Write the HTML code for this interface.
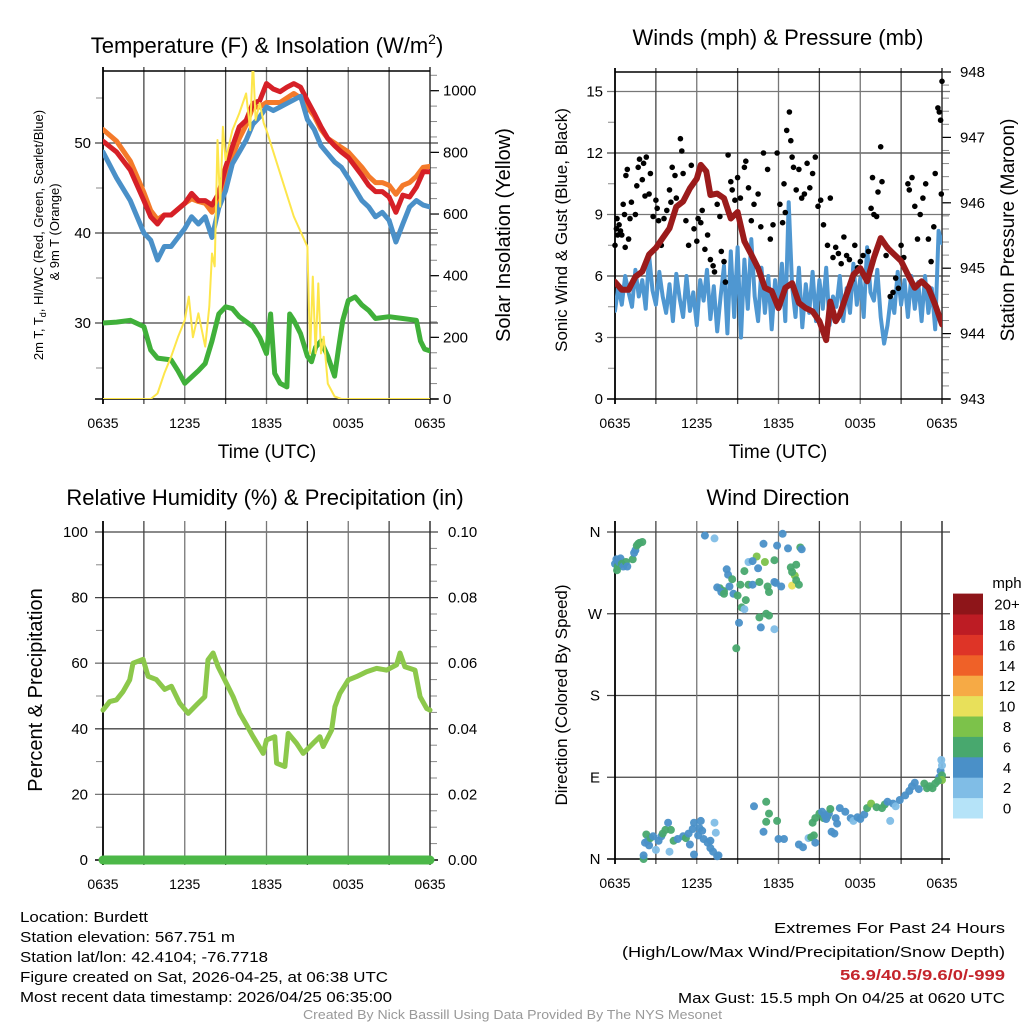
<!DOCTYPE html>
<html><head><meta charset="utf-8"><style>
html,body{margin:0;padding:0;background:#fff;}
svg{display:block;font-family:"Liberation Sans",sans-serif;}
</style></head><body>
<svg id="fig" width="1024" height="1024" viewBox="0 0 1024 1024" xmlns="http://www.w3.org/2000/svg">
<defs>
<clipPath id="c1"><rect x="103" y="71" width="327" height="328"/></clipPath>
<clipPath id="c2"><rect x="615" y="71" width="327" height="330"/></clipPath>
</defs>
<g id="root"></g>
<g font-size="22" text-anchor="middle" fill="#000">
<text x="267" y="53">Temperature (F) &amp; Insolation (W/m<tspan dy="-9" font-size="14">2</tspan><tspan dy="9">)</tspan></text>
<text x="778" y="45">Winds (mph) &amp; Pressure (mb)</text>
<text x="265" y="505">Relative Humidity (%) &amp; Precipitation (in)</text>
<text x="778" y="505">Wind Direction</text>
</g>
<g fill="#000">
<text x="267" y="458" font-size="19" text-anchor="middle">Time (UTC)</text>
<text x="778" y="458" font-size="19" text-anchor="middle">Time (UTC)</text>
<text font-size="13" text-anchor="middle" transform="translate(43,235) rotate(-90)">2m T, T<tspan font-size="9" dy="3">d</tspan><tspan dy="-3">, HI/WC (Red, Green, Scarlet/Blue)</tspan></text>
<text font-size="13" text-anchor="middle" transform="translate(59,232) rotate(-90)">&amp; 9m T (Orange)</text>
<text font-size="20" text-anchor="middle" transform="translate(510,235) rotate(-90)">Solar Insolation (Yellow)</text>
<text font-size="17" text-anchor="middle" transform="translate(567,230) rotate(-90)">Sonic Wind &amp; Gust (Blue, Black)</text>
<text font-size="19" text-anchor="middle" transform="translate(1014,230) rotate(-90)">Station Pressure (Maroon)</text>
<text font-size="20" text-anchor="middle" transform="translate(42,690) rotate(-90)">Percent &amp; Precipitation</text>
<text font-size="17" text-anchor="middle" transform="translate(567,695) rotate(-90)">Direction (Colored By Speed)</text>
</g>
<g font-size="15" fill="#000">
<text x="20" y="922" textLength="128" lengthAdjust="spacingAndGlyphs">Location: Burdett</text>
<text x="20" y="942" textLength="215" lengthAdjust="spacingAndGlyphs">Station elevation: 567.751 m</text>
<text x="20" y="962" textLength="248" lengthAdjust="spacingAndGlyphs">Station lat/lon: 42.4104; -76.7718</text>
<text x="20" y="982" textLength="368" lengthAdjust="spacingAndGlyphs">Figure created on Sat, 2026-04-25, at 06:38 UTC</text>
<text x="20" y="1002" textLength="372" lengthAdjust="spacingAndGlyphs">Most recent data timestamp: 2026/04/25 06:35:00</text>
<text x="774" y="933" textLength="231" lengthAdjust="spacingAndGlyphs">Extremes For Past 24 Hours</text>
<text x="622" y="957" textLength="383" lengthAdjust="spacingAndGlyphs">(High/Low/Max Wind/Precipitation/Snow Depth)</text>
<text x="840" y="980" textLength="165" lengthAdjust="spacingAndGlyphs" fill="#c4242b" font-weight="bold">56.9/40.5/9.6/0/-999</text>
<text x="678" y="1003" textLength="327" lengthAdjust="spacingAndGlyphs">Max Gust: 15.5 mph On 04/25 at 0620 UTC</text>
<text x="303" y="1019" font-size="13" fill="#999" textLength="419" lengthAdjust="spacingAndGlyphs">Created By Nick Bassill Using Data Provided By The NYS Mesonet</text>
</g>
</svg>
<script>
// ---------- DATA ----------
const tempT=[0,1,2,3,3.5,4,4.5,5,6,6.5,7,7.5,8,8.5,9,9.5,10,10.5,11,11.5,12,12.5,13,13.5,14,14.5,15,15.5,16,16.5,17,17.5,18,19,19.5,20,20.5,21,21.5,22,22.5,23,23.5,24];
const redTemp=[50.2,49.0,47.0,43.6,41.8,41.0,42,42,43.3,44.4,43.6,43.6,43.1,44.4,47.3,49.6,51.8,52.5,54.4,54.7,56.6,56,55.7,56.2,56.6,56.2,54.7,53.3,51.8,50.5,49.7,49.0,48.4,46.4,45.3,44.6,44.6,44,42.3,44.2,44,45.1,46.8,46.8];
const orangeTemp=[51.5,50.2,48,44.5,42.5,41.5,42,42,43.3,43.8,43.5,43.3,42.3,43.5,46,48.5,50.5,52,54,54,54.5,54.5,54.5,55,55.5,55,54,53,51.5,50.5,50,49.5,49,47.3,46.3,45.6,45.6,45.3,44.3,45.3,45.6,46.3,47.3,47.4];
const blueTemp=[49.0,46.1,43.6,40,39.2,37,38.5,38.5,40.5,41.8,41,41.8,39.5,42.8,44.7,47.7,49,50.3,52.1,52.9,54,53.6,54,54.4,54.8,55.2,52.6,51.5,49.7,48.8,47.9,47.3,46.1,43.6,42.9,41.8,42.3,41.4,39,41,42.9,43.6,43.1,42.9];
const dewT=[0,1,2,3,3.5,4,5,5.5,6,7,7.5,8,8.5,9,9.5,10,11,11.5,12,12.3,12.6,13,13.5,13.7,14,14.5,15,15.3,15.6,16,16.5,17,17.3,17.6,18,18.5,19,19.5,20,21,22,23,23.3,23.6,24];
const dewVal=[30,30.1,30.3,29.6,27,26.1,25.9,24.7,23.3,24.7,25.5,28,31,31.8,31.6,30.7,29.6,28.4,26.6,31,24.4,23.3,22.9,31,30.3,28.8,26.3,25.7,27.3,28,26.3,24.1,27.3,30.3,32.5,32.9,32,31.4,30.5,30.7,30.5,30.3,28,27.1,26.9];
const solarT=[0,3.5,4,4.5,5,5.5,6,6.3,6.6,7,7.5,7.8,8,8.2,8.4,8.6,8.8,9,9.5,10,10.5,10.8,11,11.2,11.5,11.8,12,13,14,15,15.2,15.4,15.6,15.8,16,16.2,16.5,17,17.5,24];
const solarVal=[0,0,18,83,137,200,256,332,200,278,170,300,472,430,840,624,883,775,872,927,991,872,1100,905,960,894,872,732,592,494,148,397,148,375,148,202,50,8,0,0];
const windT=[];for(let i=0;i<=96;i++)windT.push(i*0.25);
const windVal=[4.3,5.5,4.6,6.0,5.2,4.5,6.3,5.0,5.8,4.4,7.0,5.3,4.6,6.2,5.0,4.2,5.6,3.8,6.1,4.9,4.0,6.0,4.3,5.2,3.6,5.8,4.8,6.3,3.9,5.5,3.3,5.0,6.5,3.2,7.2,4.0,7.4,3.0,6.8,4.4,7.8,5.0,3.8,6.4,4.2,6.0,3.4,5.8,4.6,6.6,3.8,9.6,5.5,4.0,6.4,3.5,5.6,4.2,6.2,3.8,5.8,4.4,6.4,3.6,5.0,4.5,6.0,3.8,5.4,4.2,6.6,4.6,5.9,4.0,7.4,5.2,4.8,6.3,4.0,2.7,3.6,5.0,4.2,6.2,4.6,5.8,4.0,6.0,4.4,5.7,3.8,6.0,4.2,5.4,3.4,8.2,7.6];
const presT=[0,0.5,1,1.5,2,2.5,3,3.5,4,4.5,5,5.5,6,6.3,6.7,7,7.5,8,8.5,9,9.5,10,10.5,11,11.5,12,12.5,13,13.5,14,14.5,15,15.5,15.8,16.2,16.5,17,17.5,18,18.5,19,19.5,20,20.5,21,21.5,22,22.5,23,23.5,24];
const presVal=[944.79,944.67,944.67,944.87,944.95,945.21,945.31,945.46,945.61,945.94,946.02,946.22,946.37,946.58,946.48,946.12,946.14,946.07,945.76,945.86,945.41,945.21,945.0,944.70,944.65,944.39,944.70,944.77,944.47,944.39,944.34,944.19,943.9,944.49,944.19,944.29,944.60,944.9,945.0,944.8,945.16,945.46,945.31,945.21,945.11,944.9,944.70,944.8,944.70,944.44,944.14];
const gustT=[0,0.1,0.15,0.2,0.3,0.4,0.5,0.6,0.7,0.75,0.8,0.9,1.0,1.1,1.2,1.5,1.6,1.7,1.8,2.0,2.1,2.2,2.3,2.5,2.6,2.8,3.0,3.1,3.2,3.4,3.6,3.8,4.0,4.1,4.2,4.4,4.5,4.8,4.9,5.0,5.2,5.4,5.6,5.8,6.0,6.1,6.3,6.4,6.6,6.8,7.0,7.2,7.3,7.5,7.7,7.8,8.0,8.1,8.3,8.5,8.6,8.8,9.0,9.2,9.5,9.6,9.8,10.0,10.2,10.5,10.7,10.9,11.2,11.4,11.6,11.9,12.1,12.3,12.4,12.5,12.6,12.8,12.9,13.0,13.1,13.3,13.5,13.7,13.9,14.1,14.3,14.5,14.7,14.9,15.1,15.3,15.6,15.8,16.0,16.2,16.4,16.6,16.8,17.0,17.2,17.4,17.6,17.8,18.0,18.2,18.4,18.6,18.8,18.9,19.0,19.2,19.3,19.5,19.6,19.9,20.0,20.2,20.4,20.6,20.8,21.0,21.2,21.5,21.6,21.8,22.0,22.2,22.4,22.6,22.8,23.0,23.2,23.4,23.5,23.7,23.8,23.9,24.0,23.95];
const gustVal=[7.5,8.3,8.8,8.0,8.5,8.2,8.0,9.5,9.0,7.4,10.9,11.2,7.8,8.8,9.6,9.0,10.4,11.3,11.7,10.7,11.5,9.9,11.8,10.0,11.0,8.9,9.7,9.3,8.7,7.5,8.8,9.2,10.2,9.6,11.3,10.9,9.8,12.7,12.1,11.0,8.7,7.5,11.4,8.3,7.7,8.8,8.6,9.2,7.3,8.0,6.8,6.5,6.2,9.5,8.9,7.2,6.7,5.7,11.9,10.6,10.2,9.7,10.8,9.8,11.3,11.6,10.3,8.7,9.5,10.0,8.4,12.0,11.2,7.8,8.5,12.0,9.5,8.6,10.5,9.1,13.1,14.0,12.6,11.8,11.3,10.2,11.2,9.8,10.0,11.5,10.3,11.0,11.8,9.4,9.7,8.5,7.5,9.8,6.9,7.4,7.1,6.6,7.9,7.0,6.8,5.8,7.5,6.4,6.7,7.0,6.0,7.2,9.3,10.8,9.0,8.9,10.1,12.3,10.6,7.0,7.4,5.0,5.2,5.9,5.4,7.5,6.9,10.5,10.2,10.8,9.4,7.8,9.0,9.8,10.5,7.8,6.7,8.4,11.0,14.2,14.0,13.6,15.5,10.0];
const rhT=[0,0.49,0.98,1.47,1.96,2.2,2.94,3.31,3.92,4.53,5.02,5.63,6.25,6.86,7.47,7.71,8.08,8.45,9.06,9.55,10.04,10.53,11.02,11.76,12.0,12.61,12.74,13.35,13.59,14.2,14.69,15.43,15.92,16.16,16.78,17.02,17.39,18.0,18.61,19.35,20.08,20.82,21.55,21.8,22.16,22.9,23.27,23.76,24];
const rhVal=[45.7,48.3,48.8,51.3,54.9,60,61.2,56,55,52,53,47.8,44.7,47.3,49.8,61,63.1,58.9,53.9,49.8,44.7,41.2,37.6,32.5,36.6,37.6,29.5,28.5,38.6,35.6,32.5,35.6,37.6,34.6,39.6,46.7,50.8,54.9,55.9,57.4,58.4,57.9,59.5,63.1,58.9,57.9,49.8,46.2,45.7];
const precipVal=[0,0];
const dirT=[0,0.1,0.2,0.3,0.4,0.5,0.6,0.8,0.9,1.3,1.4,1.5,1.6,1.7,1.8,2.0,0.15,
6.6,7.3,10.9,12.3,11.9,12.7,13.6,13.7,10.4,11.0,9.8,10.1,10.5,11.7,12.9,13.3,9.5,8.3,8.2,8.6,7.7,7.5,8.0,8.4,8.7,9.2,9.8,10.1,10.6,11.2,11.3,11.7,11.8,12.2,13.2,13.0,13.3,13.5,13.0,9.3,9.5,10.6,11.1,11.3,9.1,10.7,11.7,7.8,8.0,9.0,9.6,8.9,
2.1,2.1,2.3,2.2,2.4,2.5,2.6,2.8,3.0,3.2,3.4,3.5,3.7,3.9,4.1,4.3,4.6,5.0,5.2,5.4,5.5,5.7,5.8,6.3,6.2,6.4,6.5,6.8,7.0,7.2,7.5,7.6,6.1,7.3,7.4,4.0,5.8,7.0,
10.2,10.9,11.1,11.3,11.9,11.1,12.0,12.4,13.5,13.8,14.2,14.6,14.4,14.7,15.3,15.6,14.5,14.7,15.0,15.2,15.4,15.5,15.7,15.8,16.2,16.3,15.9,16.1,16.5,16.9,17.3,17.5,17.8,18.0,18.3,18.5,18.8,19.2,19.6,19.8,20.0,20.4,20.6,20.2,20.9,21.3,21.6,21.8,22.0,22.3,22.7,22.9,23.1,23.3,23.5,23.8,23.9,24.0,23.95,24.0,24.0,23.7];
const dirVal=[325,330,322,327,331,325,322,327,322,330,337,340,345,347,348,349,318,
356,353,347,358,345,342,343,341,333,327,327,328,320,329,321,324,317,313,319,308,298,299,295,300,292,302,302,302,305,300,294,305,304,300,312,301,307,302,316,277,275,266,270,268,260,255,253,294,292,290,285,232,
0,4,27,18,20,15,23,25,10,20,25,28,32,40,32,20,22,25,23,28,16,33,40,42,34,31,22,18,12,8,3,4,26,40,29,8,5,20,
58,30,63,50,42,41,22,22,16,13,23,26,24,18,45,47,40,45,50,52,48,44,50,55,45,39,30,28,56,52,45,42,46,44,49,56,61,57,56,60,63,61,58,42,65,70,75,80,84,77,83,78,80,78,83,90,97,103,109,92,87,86];
const dirSpd=[4,4,6,4,4,6,4,6,4,6,4,4,6,6,6,6,6,
4,2,4,4,4,4,6,4,8,8,2,4,4,6,6,6,6,4,4,6,6,4,6,4,4,6,6,4,6,6,6,4,4,4,8,10,6,6,6,6,2,6,6,6,4,4,2,4,6,6,6,6,
6,4,6,4,4,4,6,4,2,4,4,6,6,4,6,6,4,4,6,4,4,4,4,4,4,4,4,4,4,4,4,4,4,2,2,2,4,4,
4,4,6,6,6,6,4,4,4,4,2,6,6,4,6,6,6,6,6,4,4,4,4,6,4,4,4,4,4,4,4,2,4,4,4,6,8,6,6,6,4,4,2,2,4,4,4,4,4,4,6,6,6,6,6,4,4,2,2,6,8,6];
const timeTickLabels=["0635","1235","1835","0035","0635"];
const tempTicks=[30,40,50];
const solarTicks=[0,200,400,600,800,1000];
const windTicks=[0,3,6,9,12,15];
const presTicks=[943,944,945,946,947,948];
const rhTicks=[0,20,40,60,80,100];
const precTicks=["0.00","0.02","0.04","0.06","0.08","0.10"];
const dirTickLabels=["N","E","S","W","N"];
const speedLabels=["0","2","4","6","8","10","12","14","16","18","20+"];
const speedColors=["#b5e3f8","#80bde6","#4a90c8","#48a86e","#7cc24a","#e8e05a","#f6aa45","#ef6128","#de3427","#bd1c24","#8e1519"];

// ---------- HELPERS ----------
const NS="http://www.w3.org/2000/svg";
const root=document.getElementById('root');
function mk(tag,attrs,parent){const e=document.createElementNS(NS,tag);for(const k in attrs)e.setAttribute(k,attrs[k]);(parent||root).appendChild(e);return e;}
function grp(name,parent){const g=mk('g',{},parent);return g;}
function mkX(L,R){return t=>L+t/24*(R-L);}
function poly(g,ts,vs,xf,yf,color,w,name,clip){const pts=ts.map((t,i)=>xf(t).toFixed(1)+','+yf(vs[i]).toFixed(1)).join(' ');
 const p=mk('polyline',{points:pts,fill:'none',stroke:color,'stroke-width':w,'stroke-linejoin':'round','stroke-linecap':'round'},g);
 if(clip)p.setAttribute('clip-path',clip);
 
 return p;}
function txt(g,x,y,s,anchor,size,name){const t=mk('text',{x:x,y:y,'text-anchor':anchor,'font-size':size||14,fill:'#000'},g);t.textContent=s;
 
 return t;}
function frame(g,L,R,T,B,top){
 for(let h=3;h<24;h+=3){const x=mkX(L,R)(h);mk('line',{x1:x,x2:x,y1:T-4,y2:B+5,stroke:(h%6?'#444':'#777'),'stroke-width':1.3},g);}
 mk('line',{x1:L,x2:L,y1:T-4,y2:B+5,stroke:'#000','stroke-width':1.8},g);
 mk('line',{x1:R,x2:R,y1:T-4,y2:B+5,stroke:'#333','stroke-width':1.5},g);
 mk('line',{x1:L-8,x2:R+8,y1:B,y2:B,stroke:'#000','stroke-width':1.5},g);
 if(top)mk('line',{x1:L,x2:R,y1:T,y2:T,stroke:'#000','stroke-width':1.5},g);
 const xf=mkX(L,R);
 timeTickLabels.forEach((s,i)=>txt(g,xf(i*6),B+29,s,'middle',14,'x-tick-label'));
}
function hgrid(g,L,R,y,major){mk('line',{x1:L-8,x2:R+8,y1:y,y2:y,stroke:major?'#444':'#777','stroke-width':1.3},g);}
function minorL(g,L,y){mk('line',{x1:L-7,x2:L,y1:y,y2:y,stroke:'#888','stroke-width':1},g);}
function minorR(g,R,y){mk('line',{x1:R,x2:R+7,y1:y,y2:y,stroke:'#888','stroke-width':1},g);}

// ---------- PANEL 1 ----------
(function(){
 const L=103,R=430,T=71,B=399;const x=mkX(L,R);
 const yT=v=>143-(v-50)*9, yS=w=>399-w*0.3083;
 const g=grp('temperature-panel');
 const ax=grp('temperature-axes',g);
 tempTicks.forEach(v=>{hgrid(ax,L,R,yT(v),true);txt(ax,L-12,yT(v)+5,String(v),'end',15,'y-tick-label');});
 [25,35,45,55].forEach(v=>minorL(ax,L,yT(v)));
 for(let w=0;w<=1050;w+=50)minorR(ax,R,yS(w));
 solarTicks.forEach(w=>{mk('line',{x1:R,x2:R+9,y1:yS(w),y2:yS(w),stroke:'#000','stroke-width':1.2},ax);txt(ax,R+13,yS(w)+5,String(w),'start',15,'solar-tick-label');});
 frame(ax,L,R,T,B,true);
 poly(g,tempT,orangeTemp,x,yT,'#f47a2a',5,'9m-temperature-line','url(#c1)');
 poly(g,tempT,redTemp,x,yT,'#d62027',5,'2m-temperature-line','url(#c1)');
 poly(g,tempT,blueTemp,x,yT,'#4a90c8',5,'wind-chill-line','url(#c1)');
 poly(g,dewT,dewVal,x,yT,'#40b03a',5,'dewpoint-line','url(#c1)');
 poly(g,solarT,solarVal,x,yS,'#fde64b',2,'solar-insolation-line','url(#c1)');
})();

// ---------- PANEL 2 ----------
(function(){
 const L=615,R=942,T=72,B=399;const x=mkX(L,R);
 const yW=v=>399-v*20.5, yP=p=>399-(p-943)*65.4;
 const g=grp('winds-panel');
 const ax=grp('winds-axes',g);
 windTicks.forEach(v=>{if(v>0)hgrid(ax,L,R,yW(v),v%2==0);else mk('line',{x1:L-8,x2:L,y1:yW(v),y2:yW(v),stroke:'#000'},ax);txt(ax,L-12,yW(v)+5,String(v),'end',15,'y-tick-label');});
 [1.5,4.5,7.5,10.5,13.5].forEach(v=>minorL(ax,L,yW(v)));
 for(let p=943;p<=948.01;p+=0.2)minorR(ax,R,yP(p));
 presTicks.forEach(p=>{mk('line',{x1:R,x2:R+9,y1:yP(p),y2:yP(p),stroke:'#000','stroke-width':1.2},ax);txt(ax,R+18,yP(p)+5,String(p),'start',15,'pressure-tick-label');});
 frame(ax,L,R,T,B,true);
 poly(g,windT,windVal,x,yW,'#4f97d1',4,'sonic-wind-line','url(#c2)');
 const dg=grp('gust-points',g);
 gustT.forEach((t,i)=>{const c=mk('circle',{cx:x(t).toFixed(1),cy:yW(gustVal[i]).toFixed(1),r:2.8,fill:'#000'},dg);
  
  });
 poly(g,presT,presVal,x,yP,'#9b1b1b',6,'station-pressure-line','url(#c2)');
})();

// ---------- PANEL 3 ----------
(function(){
 const L=103,R=430,T=525,B=860;const x=mkX(L,R);
 const yR=v=>860-v*3.28;
 const g=grp('humidity-panel');
 const ax=grp('humidity-axes',g);
 rhTicks.forEach((v,i)=>{if(v>0)hgrid(ax,L,R,yR(v),v%40==0||v==100);txt(ax,L-15,yR(v)+5,String(v),'end',15,'y-tick-label');txt(ax,R+18,yR(v)+5,precTicks[i],'start',15,'precip-tick-label');});
 for(let v=10;v<100;v+=20)minorL(ax,L,yR(v));
 for(let v=5;v<100;v+=5)if(v%20)minorR(ax,R,yR(v));
 frame(ax,L,R,T,B,false);
 poly(g,[0,24],precipVal,x,v=>yR(v*1000),'#4cb848',9,'precipitation-line');
 poly(g,rhT,rhVal,x,yR,'#8cc84b',5,'relative-humidity-line');
})();

// ---------- PANEL 4 ----------
(function(){
 const L=615,R=942,T=525,B=859;const x=mkX(L,R);
 const yD=d=>859-d*0.9083;
 const g=grp('direction-panel');
 const ax=grp('direction-axes',g);
 dirTickLabels.forEach((s,i)=>{const y=yD(i*90);if(i>0)hgrid(ax,L,R,y,true);txt(ax,L-20,y+5,s,'middle',15,'direction-tick-label');});
 frame(ax,L,R,T,B,false);
 const dg=grp('direction-points',g);
 dirT.forEach((t,i)=>{const bin=Math.min(10,Math.floor(dirSpd[i]/2));
  const c=mk('circle',{cx:x(t).toFixed(1),cy:yD(dirVal[i]).toFixed(1),r:4,fill:speedColors[bin],'fill-opacity':0.95},dg);
  
  });
 const lg=grp('speed-colorbar',g);
 txt(lg,1007,588,'mph','middle',15,'colorbar-title');
 speedColors.forEach((c,i)=>{const y=818-(i+1)*20.4;
  const r=mk('rect',{x:953,y:y.toFixed(1),width:30,height:20.9,fill:c},lg);
  
  
  txt(lg,1007,y+16,speedLabels[i],'middle',15,'colorbar-label');});
})();
</script>
</body></html>
